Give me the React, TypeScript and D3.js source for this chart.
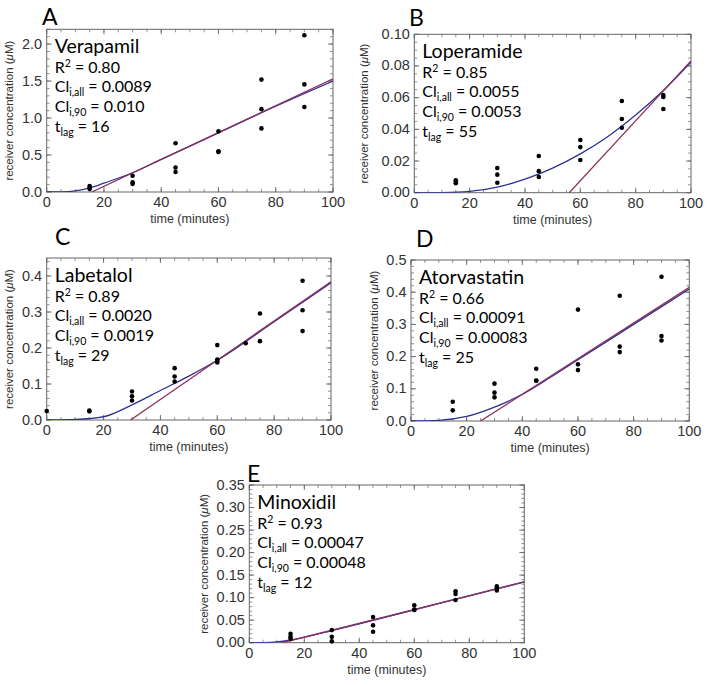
import React from 'react';
import * as d3 from 'd3';

type P = [number, number];

// ---------- shared ----------
const timeTicks = [0, 20, 40, 60, 80, 100];
const xDomain: P = [0, 100];

// ---------- A: Verapamil ----------
const verapamilObs: P[] = [
  [15, 0.08], [15, 0.06], [15, 0.04],
  [30, 0.22], [30, 0.13], [30, 0.11],
  [45, 0.66], [45, 0.33], [45, 0.27],
  [60, 0.82], [60, 0.55], [60, 0.54],
  [75, 1.52], [75, 1.12], [75, 0.86],
  [90, 2.12], [90, 1.455], [90, 1.15],
];
const verapamilFit: P[] = [[0, 0], [5, 0.002], [10, 0.016], [15, 0.055], [20, 0.12], [30, 0.26], [40, 0.44], [60, 0.8], [80, 1.16], [100, 1.5]];
const verapamilLag: P[] = [[15.7, 0], [100, 1.53]];
const verapamilText = ['Verapamil', '0.80', '0.0089', '0.010', '16'];
const verapamilYTicks = [0, 0.5, 1.0, 1.5, 2.0];

// ---------- B: Loperamide ----------
const loperamideObs: P[] = [
  [15, 0.0078], [15, 0.0068], [15, 0.006],
  [30, 0.0156], [30, 0.0114], [30, 0.0063],
  [45, 0.0232], [45, 0.0136], [45, 0.0099],
  [60, 0.0333], [60, 0.0288], [60, 0.0206],
  [75, 0.0579], [75, 0.0465], [75, 0.041],
  [90, 0.0617], [90, 0.0604], [90, 0.0528],
];
const loperamideFit: P[] = [[0, 0], [10, 0.0001], [20, 0.0008], [30, 0.0035], [40, 0.0085], [50, 0.0155], [60, 0.0245], [70, 0.0355], [80, 0.049], [90, 0.0645], [100, 0.0825]];
const loperamideLag: P[] = [[56, 0], [100, 0.0832]];
const loperamideText = ['Loperamide', '0.85', '0.0055', '0.0053', '55'];
const loperamideYTicks = [0, 0.02, 0.04, 0.06, 0.08, 0.1];

// ---------- C: Labetalol ----------
const labetalolObs: P[] = [
  [0, 0.025],
  [15, 0.026], [15, 0.024],
  [30, 0.079], [30, 0.066], [30, 0.054],
  [45, 0.144], [45, 0.121], [45, 0.107],
  [60, 0.208], [60, 0.168], [60, 0.164], [60, 0.16],
  [70, 0.213],
  [75, 0.296], [75, 0.219],
  [90, 0.387], [90, 0.305], [90, 0.247],
];
const labetalolFit: P[] = [[0, 0], [10, 0.0015], [20, 0.009], [30, 0.042], [40, 0.082], [50, 0.122], [60, 0.166], [80, 0.273], [100, 0.381]];
const labetalolLag: P[] = [[29.5, 0], [100, 0.384]];
const labetalolText = ['Labetalol', '0.89', '0.0020', '0.0019', '29'];
const labetalolYTicks = [0, 0.1, 0.2, 0.3, 0.4];

// ---------- D: Atorvastatin ----------
const atorvastatinObs: P[] = [
  [15, 0.06], [15, 0.033],
  [30, 0.116], [30, 0.088], [30, 0.0735],
  [45, 0.1625], [45, 0.126], [45, 0.125],
  [60, 0.346], [60, 0.176], [60, 0.158],
  [75, 0.389], [75, 0.231], [75, 0.214],
  [90, 0.448], [90, 0.264], [90, 0.25],
];
const atorvastatinFit: P[] = [[0, 0], [10, 0.002], [20, 0.014], [30, 0.043], [40, 0.083], [50, 0.135], [60, 0.19], [80, 0.3], [100, 0.41]];
const atorvastatinLag: P[] = [[25, 0], [100, 0.415]];
const atorvastatinText = ['Atorvastatin', '0.66', '0.00091', '0.00083', '25'];
const atorvastatinYTicks = [0, 0.1, 0.2, 0.3, 0.4, 0.5];

// ---------- E: Minoxidil ----------
const minoxidilObs: P[] = [
  [15, 0.02], [15, 0.0133], [15, 0.009],
  [30, 0.028], [30, 0.013], [30, 0.003],
  [45, 0.057], [45, 0.0385], [45, 0.0244],
  [60, 0.083], [60, 0.0735], [60, 0.0728],
  [75, 0.114], [75, 0.108], [75, 0.0947],
  [90, 0.125], [90, 0.121], [90, 0.116],
];
const minoxidilFit: P[] = [[0, 0], [5, 0.0003], [10, 0.0018], [15, 0.006], [20, 0.0122], [30, 0.027], [40, 0.042], [60, 0.073], [80, 0.104], [100, 0.135]];
const minoxidilLag: P[] = [[12, 0], [100, 0.135]];
const minoxidilText = ['Minoxidil', '0.93', '0.00047', '0.00048', '12'];
const minoxidilYTicks = [0, 0.05, 0.1, 0.15, 0.2, 0.25, 0.3, 0.35];

// ---------- layout ----------
interface Panel {
  id: string; letter: string; text: string[]; obs: P[]; fit: P[]; lag: P[];
  yTicks: number[]; yMax: number; yMinor: number; fmt: string;
  left: number; right: number; top: number; bottom: number;
  letterX: number; letterY: number; yLabelX: number;
}

const panels: Panel[] = [
  { id: 'A', letter: 'A', text: verapamilText, obs: verapamilObs, fit: verapamilFit, lag: verapamilLag,
    yTicks: verapamilYTicks, yMax: 2.2, yMinor: 0.1, fmt: '.1f',
    left: 46.7, right: 333, top: 29.3, bottom: 192, letterX: 42, letterY: 25, yLabelX: 13 },
  { id: 'B', letter: 'B', text: loperamideText, obs: loperamideObs, fit: loperamideFit, lag: loperamideLag,
    yTicks: loperamideYTicks, yMax: 0.1, yMinor: 0.005, fmt: '.2f',
    left: 414.3, right: 691, top: 34.3, bottom: 192.7, letterX: 409, letterY: 26, yLabelX: 368 },
  { id: 'C', letter: 'C', text: labetalolText, obs: labetalolObs, fit: labetalolFit, lag: labetalolLag,
    yTicks: labetalolYTicks, yMax: 0.45, yMinor: 0.02, fmt: '.1f',
    left: 46.7, right: 331, top: 258, bottom: 420, letterX: 55, letterY: 245, yLabelX: 13 },
  { id: 'D', letter: 'D', text: atorvastatinText, obs: atorvastatinObs, fit: atorvastatinFit, lag: atorvastatinLag,
    yTicks: atorvastatinYTicks, yMax: 0.5, yMinor: 0.02, fmt: '.1f',
    left: 411, right: 689.3, top: 260, bottom: 421, letterX: 416, letterY: 247, yLabelX: 378 },
  { id: 'E', letter: 'E', text: minoxidilText, obs: minoxidilObs, fit: minoxidilFit, lag: minoxidilLag,
    yTicks: minoxidilYTicks, yMax: 0.35, yMinor: 0.01, fmt: '.2f',
    left: 249.3, right: 524.3, top: 485, bottom: 642.7, letterX: 247, letterY: 482, yLabelX: 208 },
];

const BLUE = '#2e3192';
const PURPLE = '#8b2f5e';
const FRAME = '#666';
const TICK_FONT = '"Liberation Sans Narrow", "Liberation Sans", Arial, sans-serif';
const LABEL_FONT = '"Liberation Sans", Arial, sans-serif';
const TEXT_FONT = 'Lato, "Open Sans", sans-serif';

function PanelView({ p }: { p: Panel }) {
  const x = d3.scaleLinear().domain(xDomain).range([p.left, p.right]);
  const y = d3.scaleLinear().domain([0, p.yMax]).range([p.bottom, p.top]);
  const line = d3.line<P>().x(d => x(d[0])).y(d => y(d[1])).curve(d3.curveMonotoneX);
  const straight = d3.line<P>().x(d => x(d[0])).y(d => y(d[1]));
  const fmt = d3.format(p.fmt);
  const xMinor = d3.range(0, 100.001, 5);
  const yMinor = d3.range(0, p.yMax + 1e-9, p.yMinor);
  const clipId = 'clip' + p.id;
  const tx = p.left + 8;
  const t0 = p.top;
  const [name, r2, cAll, c90, tlag] = p.text;
  const MAJ = 5, MIN = 3;
  return (
    <g>
      <defs>
        <clipPath id={clipId}>
          <rect x={p.left} y={p.top} width={p.right - p.left} height={p.bottom - p.top} />
        </clipPath>
      </defs>
      <text x={p.letterX} y={p.letterY} fontFamily={TEXT_FONT} fontSize={23} fill="#000">{p.letter}</text>
      {xMinor.map((v, i) => (
        <g key={'xm' + i}>
          <line x1={x(v)} x2={x(v)} y1={p.bottom} y2={p.bottom - MIN} stroke={FRAME} strokeWidth={0.7} />
          <line x1={x(v)} x2={x(v)} y1={p.top} y2={p.top + MIN} stroke={FRAME} strokeWidth={0.7} />
        </g>
      ))}
      {yMinor.map((v, i) => (
        <g key={'ym' + i}>
          <line x1={p.left} x2={p.left + MIN} y1={y(v)} y2={y(v)} stroke={FRAME} strokeWidth={0.7} />
          <line x1={p.right} x2={p.right - MIN} y1={y(v)} y2={y(v)} stroke={FRAME} strokeWidth={0.7} />
        </g>
      ))}
      {timeTicks.map((v, i) => (
        <g key={'xM' + i}>
          <line x1={x(v)} x2={x(v)} y1={p.bottom} y2={p.bottom - MAJ} stroke={FRAME} strokeWidth={0.9} />
          <line x1={x(v)} x2={x(v)} y1={p.top} y2={p.top + MAJ} stroke={FRAME} strokeWidth={0.9} />
          <text x={x(v)} y={p.bottom + 15} textAnchor="middle" fontFamily={TICK_FONT} fontSize={14.5} fill="#333">{v}</text>
        </g>
      ))}
      {p.yTicks.map((v, i) => (
        <g key={'yM' + i}>
          <line x1={p.left} x2={p.left + MAJ} y1={y(v)} y2={y(v)} stroke={FRAME} strokeWidth={0.9} />
          <line x1={p.right} x2={p.right - MAJ} y1={y(v)} y2={y(v)} stroke={FRAME} strokeWidth={0.9} />
          <text x={p.left - 4.5} y={y(v) + 4.5} textAnchor="end" fontFamily={TICK_FONT} fontSize={14.5} fill="#333">{fmt(v)}</text>
        </g>
      ))}
      <rect x={p.left} y={p.top} width={p.right - p.left} height={p.bottom - p.top} fill="none" stroke={FRAME} strokeWidth={1} />
      <g clipPath={`url(#${clipId})`}>
        <path d={line(p.fit) || ''} fill="none" stroke={BLUE} strokeWidth={1.3} />
        <path d={straight(p.lag) || ''} fill="none" stroke={PURPLE} strokeWidth={1.3} />
      </g>
      {p.obs.map((d, i) => (
        <circle key={'o' + i} cx={x(d[0])} cy={y(d[1])} r={2.3} fill="#000" />
      ))}
      <g fontFamily={TEXT_FONT} fill="#000">
        <text x={tx} y={t0 + 24} fontSize={19.5}>{name}</text>
        <text x={tx} y={t0 + 43.5} fontSize={16}>R<tspan fontSize={10.5} dy={-5.5}>2</tspan><tspan dy={5.5}> = {r2}</tspan></text>
        <text x={tx} y={t0 + 63} fontSize={16}>Cl<tspan fontSize={10.5} dy={3.5}>i,all</tspan><tspan dy={-3.5}> = {cAll}</tspan></text>
        <text x={tx} y={t0 + 83} fontSize={16}>Cl<tspan fontSize={10.5} dy={3.5}>i,90</tspan><tspan dy={-3.5}> = {c90}</tspan></text>
        <text x={tx} y={t0 + 103} fontSize={16}>t<tspan fontSize={10.5} dy={3.5}>lag</tspan><tspan dy={-3.5}> = {tlag}</tspan></text>
      </g>
      <text x={(p.left + p.right) / 2} y={p.bottom + 31} textAnchor="middle" fontFamily={LABEL_FONT} fontSize={12.5} fill="#333">time (minutes)</text>
      <text transform={`translate(${p.yLabelX},${(p.top + p.bottom) / 2}) rotate(-90)`} textAnchor="middle" fontFamily={LABEL_FONT} fontSize={11.5} fill="#333">
        receiver concentration (<tspan fontStyle="italic">μ</tspan>M)
      </text>
    </g>
  );
}

export default function App() {
  return (
    <svg width={711} height={685} style={{ position: 'absolute', left: 0, top: 0, background: '#fff' }}>
      <rect width={711} height={685} fill="#fff" />
      {panels.map(p => <PanelView key={p.id} p={p} />)}
    </svg>
  );
}
